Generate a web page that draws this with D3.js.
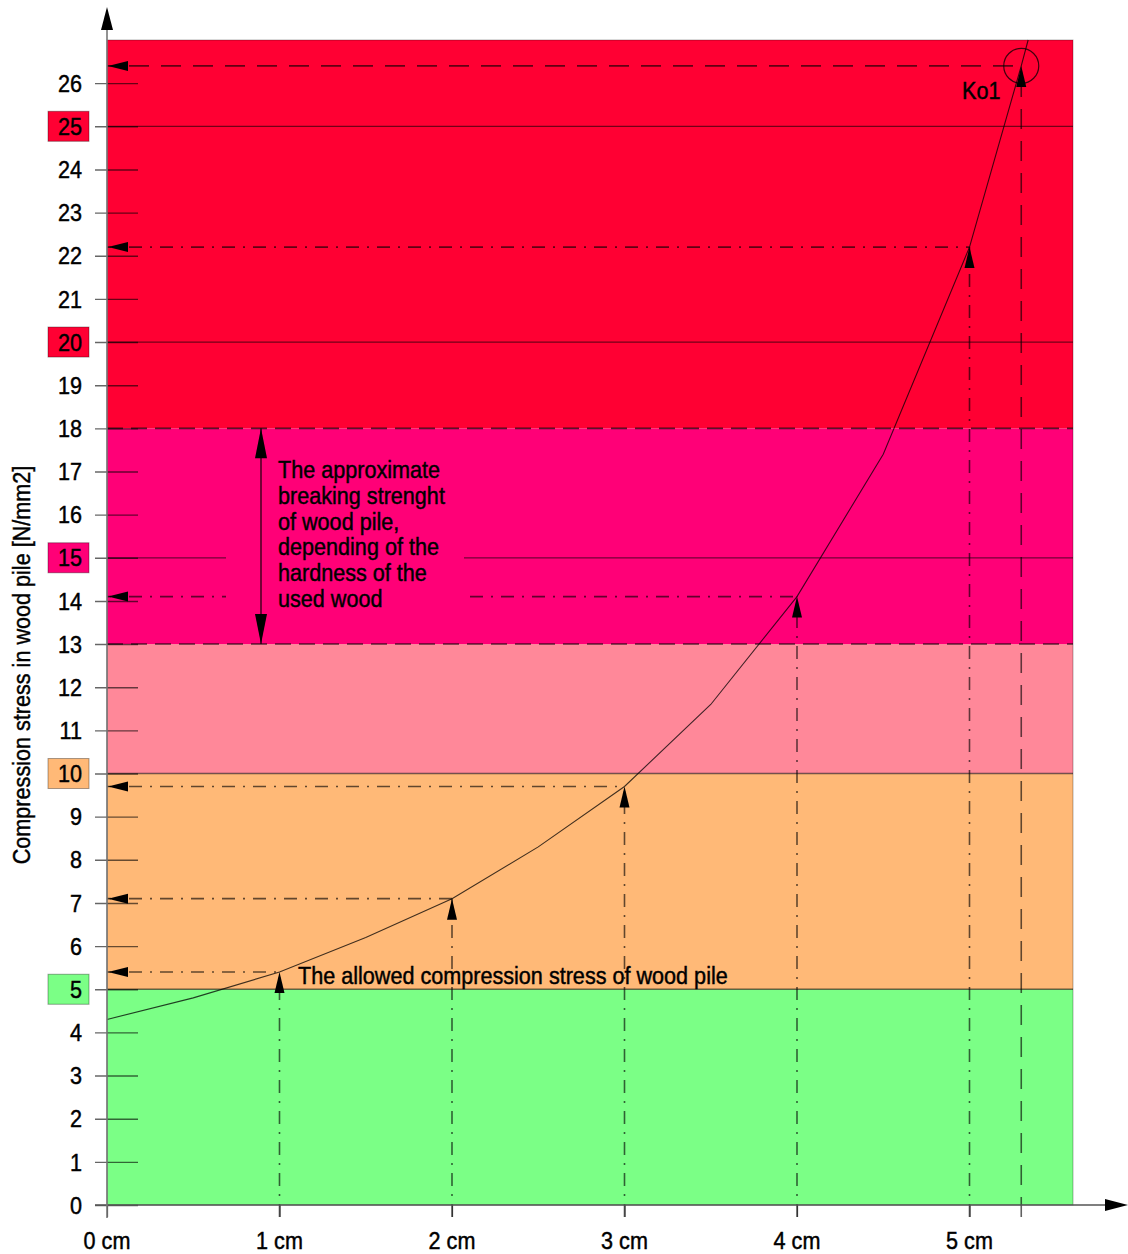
<!DOCTYPE html>
<html><head><meta charset="utf-8">
<script src="https://cdn.jsdelivr.net/npm/d3@7/dist/d3.min.js"></script>
<style>
html,body{margin:0;padding:0;background:#fff;}
text{font-family:"Liberation Sans",Arial,sans-serif;fill:#000;stroke:#000;stroke-width:0.45px;}
</style></head>
<body><svg id="c" width="1128" height="1254"></svg>
<script>
// ---- data ----
const deflection = [0, 0.5, 1, 1.5, 2, 2.5, 3, 3.5, 4, 4.5, 5, 5.3, 5.34];
const stress     = [4.3, 4.8, 5.4, 6.2, 7.1, 8.3, 9.7, 11.6, 14.1, 17.4, 22.2, 26.4, 27];
const readX = [1, 2, 3, 4, 5, 5.3];
const readY = [5.4, 7.1, 9.7, 14.1, 22.2, 26.4];
const readDashed = [false, false, false, false, false, true];
const bandFrom  = [0, 5, 10, 13, 18];
const bandTo    = [5, 10, 13, 18, 27];
const bandColor = ["#7bff86", "#ffb977", "#ff8899", "#ff0077", "#ff0033"];
const xTicks = [0, 1, 2, 3, 4, 5];
const xTickLabels = ["0 cm", "1 cm", "2 cm", "3 cm", "4 cm", "5 cm"];
const yTicks = [0,1,2,3,4,5,6,7,8,9,10,11,12,13,14,15,16,17,18,19,20,21,22,23,24,25,26];
const yBoxed = [5, 10, 15, 20, 25];
const solidLines = [5, 10, 15, 20, 25];
const dashedLines = [13, 18];
const yTitle = "Compression stress in wood pile [N/mm2]";
const noteLines = ["The approximate", "breaking strenght", "of wood pile,", "depending of the", "hardness of the", "used wood"];
const noteRange = [13, 18];
const allowedText = "The allowed compression stress of wood pile";
const markLabel = "Ko1";

// ---- layout ----
const L = 107, T = 40, R = 1073, B = 1205;
const x = d3.scaleLinear().domain([0, 5.6]).range([L, R]);
const y = d3.scaleLinear().domain([0, 27]).range([B, T]);
const svg = d3.select("#c");
const SX = 0.9, FS = 24;
function txt(g, px, py, s, anchor, base) {
  return g.append("text")
    .attr("transform", `translate(${px},${py}) scale(${SX},1)`)
    .attr("text-anchor", anchor || "start")
    .attr("font-size", FS)
    .attr("dy", base || 0)
    .text(s);
}
const bandOf = v => bandColor[bandFrom.findIndex((f, i) => v > f && v <= bandTo[i])];

// bands
svg.append("g").selectAll("rect").data(bandFrom).join("rect")
  .attr("x", L).attr("width", R - L)
  .attr("y", (d, i) => y(bandTo[i])).attr("height", (d, i) => y(d) - y(bandTo[i]))
  .attr("fill", (d, i) => bandColor[i]);
svg.append("rect").attr("x", L).attr("y", T).attr("width", R - L).attr("height", B - T)
  .attr("fill", "none").attr("stroke", "rgba(0,0,0,0.3)").attr("stroke-width", 1);

// horizontal full-width lines
svg.append("g").selectAll("line").data(solidLines).join("line")
  .attr("x1", L).attr("x2", R).attr("y1", d => y(d)).attr("y2", d => y(d))
  .attr("stroke", "rgba(0,0,0,0.55)").attr("stroke-width", 1.3);
svg.append("g").selectAll("line").data(dashedLines).join("line")
  .attr("x1", L).attr("x2", R).attr("y1", d => y(d)).attr("y2", d => y(d))
  .attr("stroke", "rgba(0,0,0,0.65)").attr("stroke-width", 1.6).attr("stroke-dasharray", "16,8");

// reading guides
const gd = svg.append("g");
readX.forEach((xv, i) => {
  const dash = readDashed[i] ? "20,12" : "13,8,2,8";
  gd.append("line").attr("x1", x(xv)).attr("x2", x(xv)).attr("y1", B + 12).attr("y2", y(readY[i]))
    .attr("stroke", "rgba(0,0,0,0.62)").attr("stroke-width", 1.6).attr("stroke-dasharray", dash);
  gd.append("line").attr("x1", L).attr("x2", x(xv)).attr("y1", y(readY[i])).attr("y2", y(readY[i]))
    .attr("stroke", "rgba(0,0,0,0.62)").attr("stroke-width", 1.6).attr("stroke-dasharray", dash)
    .attr("stroke-dashoffset", -22);
});

// curve
const pts = deflection.map((d, i) => [d, stress[i]]);
svg.append("path").datum(pts)
  .attr("d", d3.line().x(d => x(d[0])).y(d => y(d[1])))
  .attr("fill", "none").attr("stroke", "rgba(0,0,0,0.75)").attr("stroke-width", 1.1);

// mask behind note
svg.append("rect").attr("x", 226).attr("y", y(15.3)).attr("width", 238).attr("height", y(13.9) - y(15.3))
  .attr("fill", bandOf(15));

// double arrow
const ax = 261;
svg.append("line").attr("x1", ax).attr("x2", ax).attr("y1", y(noteRange[1])).attr("y2", y(noteRange[0]))
  .attr("stroke", "#000").attr("stroke-width", 1.1);
const ya = y(noteRange[1]), yb = y(noteRange[0]);
svg.append("path").attr("d", `M${ax},${ya} L${ax - 6},${ya + 30} L${ax + 6},${ya + 30} Z`).attr("fill", "#000");
svg.append("path").attr("d", `M${ax},${yb} L${ax - 6},${yb - 30} L${ax + 6},${yb - 30} Z`).attr("fill", "#000");
const gn = svg.append("g");
noteLines.forEach((s, i) => txt(gn, 278, 478 + i * 25.8, s));

// arrowheads on guides
readX.forEach((xv, i) => {
  const py = y(readY[i]), px = x(xv);
  svg.append("path").attr("d", `M${L + 1},${py} L${L + 21},${py - 5} L${L + 21},${py + 5} Z`).attr("fill", "#000");
  svg.append("path").attr("d", `M${px},${py} L${px - 5},${py + 21} L${px + 5},${py + 21} Z`).attr("fill", "#000");
});

// Ko1 marker
const last = readX.length - 1;
svg.append("circle").attr("cx", x(readX[last])).attr("cy", y(readY[last])).attr("r", 17.5)
  .attr("fill", "none").attr("stroke", "rgba(0,0,0,0.75)").attr("stroke-width", 1.2);
txt(svg, 962, 99, markLabel);
txt(svg, 298, 984, allowedText);

// y axis ticks
const gy = svg.append("g").attr("transform", `translate(${L},0)`)
  .call(d3.axisLeft(y).tickValues(yTicks).tickSize(12).tickFormat(""));
gy.select(".domain").remove();
gy.selectAll(".tick line").attr("x1", 31).attr("stroke", "rgba(0,0,0,0.6)").attr("stroke-width", 1.4);

// boxed labels
svg.append("g").selectAll("rect").data(yBoxed).join("rect")
  .attr("x", 48).attr("width", 41).attr("y", d => y(d) - 15).attr("height", 30)
  .attr("fill", d => bandOf(d)).attr("stroke", "rgba(0,0,0,0.35)").attr("stroke-width", 1);
const gl = svg.append("g");
yTicks.forEach(v => txt(gl, 82, y(v), String(v), "end", "0.36em"));

// x axis
const gx = svg.append("g").attr("transform", `translate(0,${B})`)
  .call(d3.axisBottom(x).tickValues(xTicks).tickSize(12).tickFormat(""));
gx.select(".domain").remove();
gx.selectAll(".tick line").attr("stroke", "#333").attr("stroke-width", 1.2);
xTicks.forEach((v, i) => txt(svg, x(v), 1249, xTickLabels[i], "middle"));

// axis lines with arrows
svg.append("line").attr("x1", 95).attr("x2", 1110).attr("y1", B).attr("y2", B).attr("stroke", "#555").attr("stroke-width", 1.6);
svg.append("path").attr("d", `M1128,${B} L1105,${B - 6} L1105,${B + 6} Z`).attr("fill", "#000");
svg.append("line").attr("x1", L).attr("x2", L).attr("y1", 1218).attr("y2", 25).attr("stroke", "#777").attr("stroke-width", 1.6);
svg.append("path").attr("d", `M${L},7 L${L - 6},30 L${L + 6},30 Z`).attr("fill", "#000");

// y title
svg.append("text").attr("transform", `translate(30,${665}) rotate(-90) scale(${SX},1)`)
  .attr("text-anchor", "middle").attr("font-size", FS).text(yTitle);
</script></body></html>
